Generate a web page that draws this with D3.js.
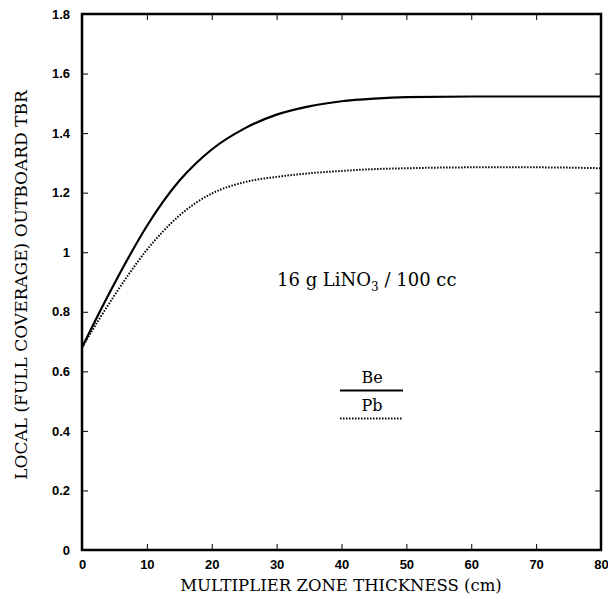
<!DOCTYPE html>
<html>
<head>
<meta charset="utf-8">
<script src="https://cdn.jsdelivr.net/npm/d3@7"></script>
<style>
  body { margin: 0; background: #fff; }
  svg text { fill: #000; }
</style>
</head>
<body>
<svg id="chart" width="608" height="600"></svg>
<script>
// thickness (cm) and local TBR
var thickness = [0, 2.5, 5, 7.5, 10, 12.5, 15, 17.5, 20, 25, 30, 35, 40, 45, 50, 60, 70, 80];
var tbrBe = [0.68, 0.79, 0.895, 0.995, 1.088, 1.17, 1.24, 1.297, 1.345, 1.415, 1.462, 1.49, 1.507, 1.516, 1.521, 1.523, 1.523, 1.523];
var tbrPb = [0.68, 0.77, 0.855, 0.935, 1.008, 1.07, 1.123, 1.165, 1.197, 1.235, 1.253, 1.265, 1.273, 1.279, 1.282, 1.285, 1.285, 1.282];
var xTicks = [0, 10, 20, 30, 40, 50, 60, 70, 80];
var yTicks = [0, 0.2, 0.4, 0.6, 0.8, 1, 1.2, 1.4, 1.6, 1.8];

var svg = d3.select("#chart");
// plot frame (avoid "top", it clashes with window.top)
var padL = 82, padR = 601, padT = 14, padB = 550;

var x = d3.scaleLinear().domain([0, 80]).range([padL, padR]);
var y = d3.scaleLinear().domain([0, 1.8]).range([padB, padT]);

var tickFont = "bold 13px 'Liberation Sans', Arial, sans-serif";
var serif = "'DejaVu Serif', 'Liberation Serif', serif";

// axes, ticks inward on all four sides
svg.append("g").attr("transform", "translate(0," + padB + ")")
  .call(d3.axisBottom(x).tickValues(xTicks).tickSize(-6).tickPadding(10).tickFormat(d3.format("d")))
  .call(function (g) { g.select(".domain").remove(); g.selectAll("text").style("font", tickFont); });
svg.append("g").attr("transform", "translate(0," + padT + ")")
  .call(d3.axisTop(x).tickValues(xTicks).tickSize(-6).tickFormat(""))
  .call(function (g) { g.select(".domain").remove(); });
svg.append("g").attr("transform", "translate(" + padL + ",0)")
  .call(d3.axisLeft(y).tickValues(yTicks).tickSize(-6).tickPadding(12)
    .tickFormat(function (d) { return d === 0 || d === 1 ? d3.format("d")(d) : d3.format(".1f")(d); }))
  .call(function (g) { g.select(".domain").remove(); g.selectAll("text").style("font", tickFont); });
svg.append("g").attr("transform", "translate(" + padR + ",0)")
  .call(d3.axisRight(y).tickValues(yTicks).tickSize(-6).tickFormat(""))
  .call(function (g) { g.select(".domain").remove(); });

svg.append("rect")
  .attr("x", padL).attr("y", padT)
  .attr("width", padR - padL).attr("height", padB - padT)
  .attr("fill", "none").attr("stroke", "#000").attr("stroke-width", 2.5);

// curves
var line = d3.line()
  .x(function (d) { return x(d[0]); })
  .y(function (d) { return y(d[1]); })
  .curve(d3.curveMonotoneX);

svg.append("path")
  .datum(d3.zip(thickness, tbrBe))
  .attr("d", line)
  .attr("fill", "none").attr("stroke", "#000").attr("stroke-width", 2.2);

svg.append("path")
  .datum(d3.zip(thickness, tbrPb))
  .attr("d", line)
  .attr("fill", "none").attr("stroke", "#000").attr("stroke-width", 2)
  .attr("stroke-dasharray", "1.5,1.5");

// axis titles
svg.append("text")
  .attr("x", 341).attr("y", 591)
  .attr("text-anchor", "middle")
  .style("font-family", serif).style("font-size", "16.5px")
  .text("MULTIPLIER ZONE THICKNESS (cm)");

svg.append("text")
  .attr("transform", "translate(27,285) rotate(-90)")
  .attr("text-anchor", "middle")
  .style("font-family", serif).style("font-size", "17px")
  .text("LOCAL (FULL COVERAGE) OUTBOARD TBR");

// annotation
var note = svg.append("text")
  .attr("x", 277).attr("y", 286)
  .style("font-family", serif).style("font-size", "18px");
note.append("tspan").text("16 g LiNO");
note.append("tspan").attr("dy", 5).style("font-size", "12px").text("3");
note.append("tspan").attr("dy", -5).text(" / 100 cc");

// legend
var legend = [
  { name: "Be", dash: null, width: 2.2 },
  { name: "Pb", dash: "1.5,1.5", width: 2 }
];
legend.forEach(function (d, i) {
  var ty = 383 + i * 28;
  svg.append("text")
    .attr("x", 372).attr("y", ty)
    .attr("text-anchor", "middle")
    .style("font-family", serif).style("font-size", "16px")
    .text(d.name);
  svg.append("line")
    .attr("x1", 340).attr("x2", 403)
    .attr("y1", ty + 7.5).attr("y2", ty + 7.5)
    .attr("stroke", "#000").attr("stroke-width", d.width)
    .attr("stroke-dasharray", d.dash);
});
</script>
</body>
</html>
